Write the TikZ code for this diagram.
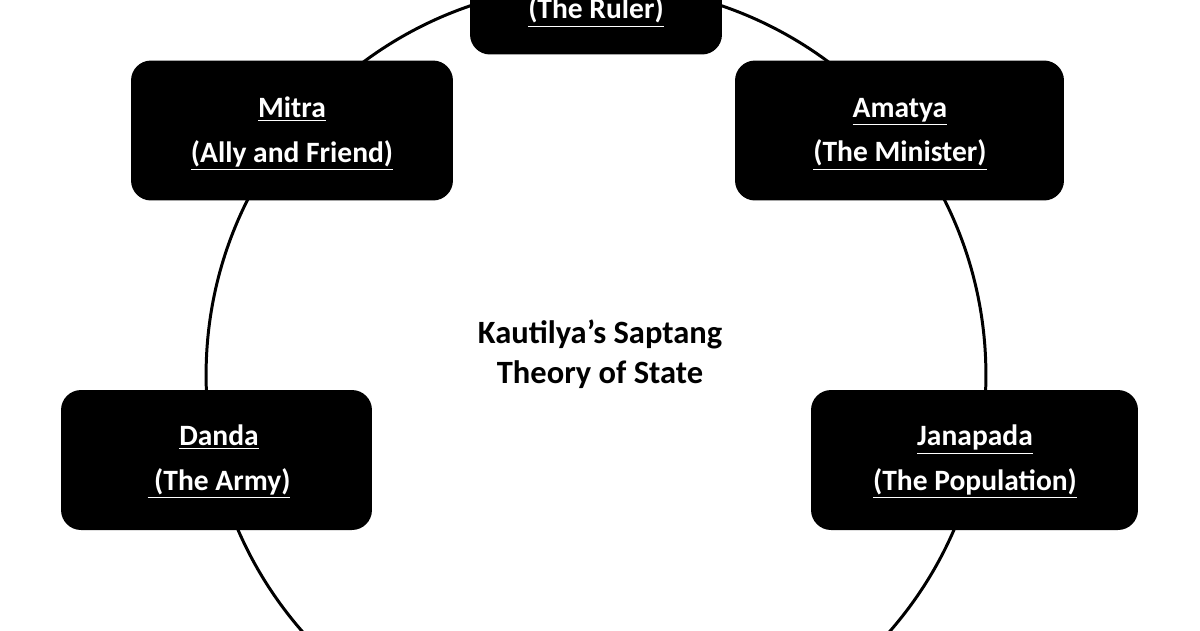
\documentclass[tikz,border=0pt]{standalone}
\usepackage{fontspec}
\setmainfont{Carlito}
\begin{document}
\begin{tikzpicture}[x=0.02cm,y=-0.02cm,
  box/.style={fill=black,rounded corners=0.4cm,inner sep=0pt},
  lbl/.style={text=white,font=\bfseries\fontsize{16.8}{25.5}\selectfont,align=center},
  ctr/.style={text=black,font=\bfseries\fontsize{18.5}{22.5}\selectfont,align=center}]
\useasboundingbox (0,0) rectangle (1200,630);
\begin{scope}
\clip (0,0) rectangle (1200,630);
\draw[line width=1.7pt] (596,375) circle[radius=7.8cm];
\node[box,minimum width=5.04cm,minimum height=2.3cm] (ruler) at (596,-3) {};
\node[lbl] (rulert) at (596,12) {\underline{(The Ruler)}};
\end{scope}
\node[box,minimum width=6.44cm,minimum height=2.8cm] (mitra) at (292,130.5) {};
\node[lbl] (mitrat) at (292,134) {\underline{Mitra}\\\underline{(Ally and Friend)}};
\node[box,minimum width=6.58cm,minimum height=2.8cm] (amatya) at (899.5,130.5) {};
\node[lbl] (amatyat) at (900,134) {\underline{Amatya}\\\underline{(The Minister)}};
\node[box,minimum width=6.22cm,minimum height=2.8cm] (danda) at (216.5,460) {};
\node[lbl] (dandat) at (219,462) {\underline{Danda}\\\underline{ (The Army)}};
\node[box,minimum width=6.54cm,minimum height=2.8cm] (jana) at (974.5,460) {};
\node[lbl] (janat) at (975,462) {\underline{Janapada}\\\underline{(The Population)}};
\node[ctr] (center) at (600,354) {Kautilya’s Saptang\\Theory of State};
\end{tikzpicture}
\end{document}
